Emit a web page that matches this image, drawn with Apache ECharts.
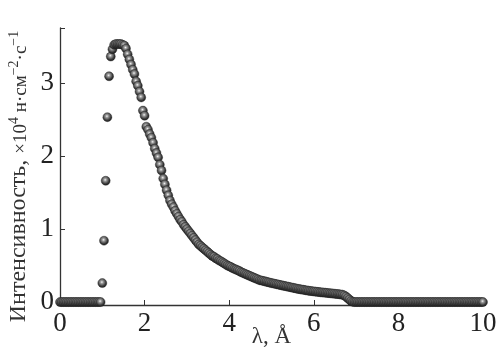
<!DOCTYPE html>
<html>
<head>
<meta charset="utf-8">
<script src="https://cdn.jsdelivr.net/npm/echarts@6/dist/echarts.min.js"></script>
<style>html,body{margin:0;padding:0;background:#fff}#c{width:502px;height:362px}</style>
</head>
<body>
<div id="c"></div>
<script>
// Intensity (×10^4) sampled every 0.04 Å from 0 to 10 Å
const intensity = [
  0,0,0,0,0,0,0,0,0,0,0,0,0,0,0,0,0,0,0,0,0,0,0,0,0,
  0.26,0.84,1.66,2.53,3.09,3.36,3.46,3.52,3.53,3.53,3.53,3.53,3.52,3.51,3.47,
  3.39,3.32,3.25,3.18,3.12,3.02,2.96,2.88,2.80,2.62,2.55,2.40,2.36,2.30,2.25,
  2.18,2.10,2.04,1.98,1.88,1.80,1.69,1.61,1.53,1.46,1.39,1.34,1.30,1.25,1.21,
  1.17,1.13,1.10,1.06,1.03,1.00,
  0.97,0.94,0.91,0.88,0.85,0.82,0.79,0.77,0.75,0.73,
  0.71,0.69,0.67,0.65,0.63,0.62,0.60,0.59,0.57,0.56,
  0.545,0.53,0.515,0.50,0.49,0.48,0.465,0.455,0.445,0.435,0.425,
  0.41,0.40,0.39,0.38,0.37,0.36,0.35,0.34,0.33,0.32,0.31,0.30,
  0.295,0.29,0.284,0.278,0.272,0.266,0.26,0.255,0.25,0.245,0.24,
  0.234,0.229,0.224,0.219,0.214,0.209,0.204,0.199,0.194,0.189,0.184,
  0.179,0.175,0.171,0.167,0.163,0.159,0.155,0.152,0.149,0.146,
  0.143,0.140,0.137,0.134,0.132,0.130,0.127,0.125,0.122,0.12,0.117,0.115,0.112,0.11,0.107,0.104,0.10,
  0.09,0.075,0.055,0.035,0.015,0.003,0,
  0,0,0,0,0,0,0,0,0,0,0,0,0,0,0,0,0,0,0,0,0,0,0,0,0,
  0,0,0,0,0,0,0,0,0,0,0,0,0,0,0,0,0,0,0,0,0,0,0,0,0,
  0,0,0,0,0,0,0,0,0,0,0,0,0,0,0,0,0,0,0,0,0,0,0,0,0,0
];
const lambdaStep = 0.04;
const lambda = intensity.map((_, i) => +(i * lambdaStep).toFixed(2));
const xTicks = [0, 2, 4, 6, 8, 10];
const yTicks = [0, 1, 2, 3];

const font = 'Liberation Serif';
const chart = echarts.init(document.getElementById('c'), null, {renderer: 'canvas'});
chart.setOption({
  animation: false,
  backgroundColor: '#fff',
  grid: {left: 60, right: 19, top: 28, bottom: 57, outerBoundsMode: 'none', containLabel: false},
  xAxis: {
    type: 'value', min: xTicks[0], max: xTicks[xTicks.length - 1], interval: 2,
    name: 'λ, Å', nameLocation: 'middle', nameGap: 20, nameMoveOverlap: false,
    nameTextStyle: {fontFamily: font, fontSize: 23, color: '#333'},
    axisLine: {onZero: false, lineStyle: {color: '#333', width: 1.3}},
    axisTick: {inside: true, length: 5, lineStyle: {color: '#333'}},
    axisLabel: {fontFamily: font, fontSize: 27, color: '#222', margin: 5},
    splitLine: {show: false}
  },
  yAxis: {
    type: 'value', min: -0.04, max: 3.75,
    name: '{a|Интенсивность, }{b|×10}{s|4}{b| н·см}{s|−2}{b|·с}{e|−1}',
    nameLocation: 'middle', nameGap: 29, nameRotate: 90, nameMoveOverlap: false,
    nameTextStyle: {
      fontFamily: font, color: '#333',
      rich: {
        a: {fontFamily: font, fontSize: 24, color: '#333', verticalAlign: 'bottom'},
        b: {fontFamily: font, fontSize: 19, color: '#333', verticalAlign: 'bottom'},
        s: {fontFamily: font, fontSize: 14, color: '#333', verticalAlign: 'top'},
        e: {fontFamily: font, fontSize: 14, color: '#333', verticalAlign: 'top', padding: [0, 20, 0, 0]}
      }
    },
    axisLine: {show: true, lineStyle: {color: '#333', width: 1.3}},
    axisTick: {inside: true, length: 5, lineStyle: {color: '#333'}},
    axisLabel: {fontFamily: font, fontSize: 27, color: '#222', margin: 6,
      formatter: v => (yTicks.indexOf(Math.round(v * 1000) / 1000) >= 0 ? String(Math.round(v)) : '')},
    splitLine: {show: false}
  },
  series: [{
    type: 'scatter',
    symbol: 'circle',
    symbolSize: 9,
    data: lambda.map((x, i) => [x, intensity[i]]),
    itemStyle: {
      color: {
        type: 'radial', x: 0.45, y: 0.4, r: 0.6,
        colorStops: [
          {offset: 0, color: '#f4f4f4'},
          {offset: 0.25, color: '#9a9a9a'},
          {offset: 0.7, color: '#3a3a3a'},
          {offset: 1, color: '#1a1a1a'}
        ]
      },
      borderColor: '#222', borderWidth: 0.4, opacity: 1
    }
  }]
});
</script>
</body>
</html>
